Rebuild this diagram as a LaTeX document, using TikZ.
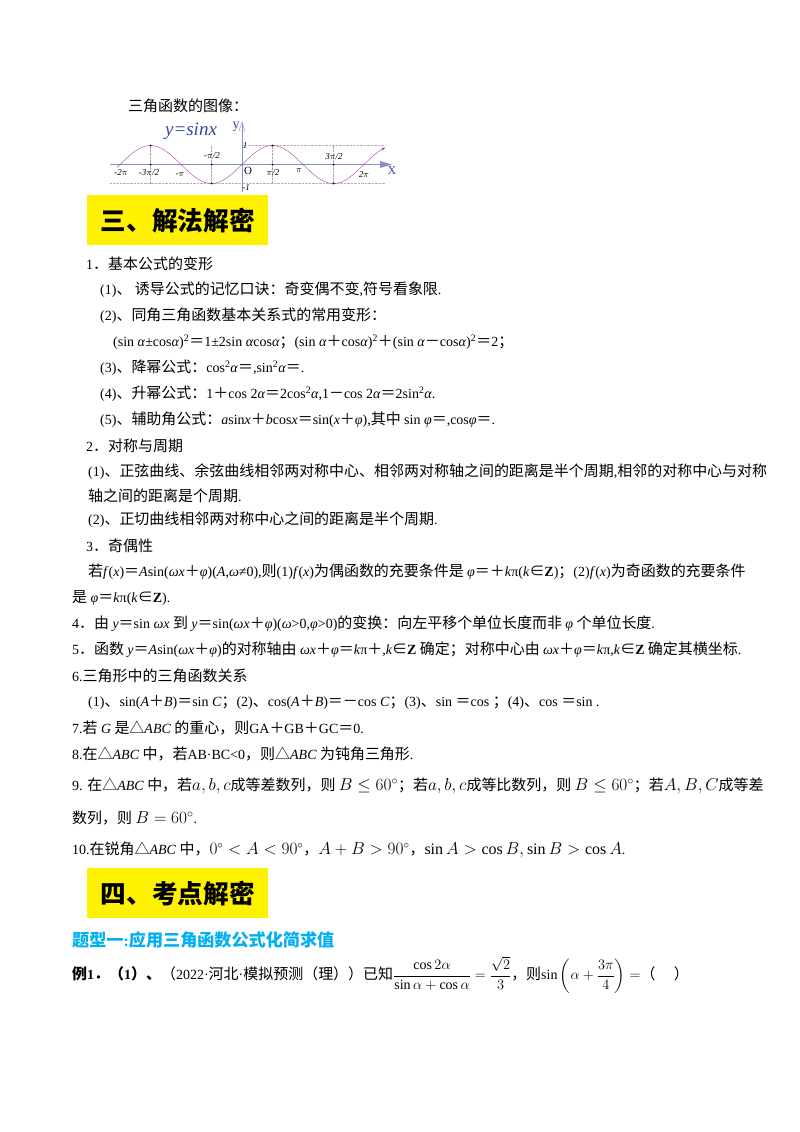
\documentclass[tikz,border=0pt]{standalone}
\usepackage{amsmath}
\usepackage{fontspec}
\setmainfont{Liberation Serif}
\newfontfamily\cjk[Scale=1.07]{Noto Sans CJK SC}
\newfontfamily\sfl{Liberation Sans}
\usetikzlibrary{arrows.meta}
\newXeTeXintercharclass\cjkclass
\count255="4E00 \loop\XeTeXcharclass\count255=\cjkclass\advance\count255 1 \ifnum\count255<"A000 \repeat
\count255="3000 \loop\XeTeXcharclass\count255=\cjkclass\advance\count255 1 \ifnum\count255<"3040 \repeat
\count255="FF00 \loop\XeTeXcharclass\count255=\cjkclass\advance\count255 1 \ifnum\count255<"FFF0 \repeat
\XeTeXcharclass"25B3=\cjkclass
\XeTeXcharclass"2208=\cjkclass
\XeTeXinterchartoks 0 \cjkclass={\cjk}
\XeTeXinterchartoks 4095 \cjkclass={\cjk}
\XeTeXinterchartoks \cjkclass 0={\rmfamily}
\XeTeXinterchartoks 4095 0={\rmfamily}
\XeTeXinterchartokenstate=1
\definecolor{curve}{RGB}{170,60,170}
\definecolor{axblue}{RGB}{50,70,160}
\definecolor{hblue}{RGB}{0,176,240}
\begin{document}
\begin{tikzpicture}[x=1pt,y=-1pt,
  t/.style={anchor=west,inner sep=0pt,font=\fontsize{14}{16}\selectfont},
  lab/.style={inner sep=0pt,font=\fontsize{9}{10}\selectfont\itshape},
  hbox/.style={fill=yellow,minimum width=181pt,minimum height=50pt,anchor=north west,inner sep=0pt,font=\fontsize{24}{28}\selectfont\bfseries}]
\useasboundingbox (0,0) rectangle (800,1132);
\fill[white] (0,0) rectangle (800,1132);
% graph
\node[t] (gt) at (128,106) {三角函数的图像：};
\node[inner sep=0pt,text=axblue,font=\fontsize{19}{20}\selectfont\itshape] (yeq) at (191,131) {y=sinx};
\draw[gray!60,densely dotted] (242,145.5) -- (385,145.5);
\draw[gray!60,densely dotted] (110,183.5) -- (385,183.5);
\foreach \k in {-1.5,-0.5,0.5,1.5}{\draw[gray!70,densely dotted] ({242+61*\k},145.5) -- ({242+61*\k},183.5);}
\draw[axblue!60] (110,164.5) -- (388,164.5);
\fill[axblue!60] (380,161) -- (392,164.5) -- (380,168) -- cycle;
\draw[axblue!60] (242,192) -- (242,123);
\draw[axblue!60] (239,131) -- (242,122) -- (245,131) -- cycle;
\draw[curve,-{Stealth[length=4pt]}] plot[domain=-6.44:7.38,samples=120,smooth] ({242+61*\x/pi},{164.5-19*sin(\x r)});
\foreach \k in {-1.5,-0.5,0.5,1.5}{\fill ({242+61*\k},164.5) circle (1pt);\fill ({242+61*\k},{164.5-19*sin(\k*180)}) circle (1pt);}
\node[inner sep=0pt,text=axblue,font=\fontsize{14}{14}\selectfont\sfl] (ylab) at (236,127) {y};
\node[inner sep=0pt,text=axblue,font=\fontsize{12}{12}\selectfont\sfl] (xlab) at (392,171) {X};
\node[inner sep=0pt,font=\fontsize{11}{11}\selectfont\sfl] (o) at (248,171) {O};
\node[lab] (l1) at (245,146) {1};
\node[lab] (lm1) at (246,188) {-1};
\node[lab] (a1) at (121,173) {-2$\pi$};
\node[lab] (a2) at (149,173) {-3$\pi$/2};
\node[lab] (a3) at (180,175) {-$\pi$};
\node[lab] (a4) at (212,156) {-$\pi$/2};
\node[lab] (a5) at (273,173) {$\pi$/2};
\node[lab] (a6) at (299,171) {$\pi$};
\node[lab] (a7) at (334,157) {3$\pi$/2};
\node[lab] (a8) at (364,175) {2$\pi$};
% heading 3
\node[hbox] (h3) at (87,195) {三、解法解密};
\node[t] (r1) at (86,264) {1．基本公式的变形};
\node[t] (r2) at (100,290) {(1)、 诱导公式的记忆口诀：奇变偶不变,符号看象限.};
\node[t] (r3) at (100,316) {(2)、同角三角函数基本关系式的常用变形：};
\node[t] (r4) at (113,342) {(sin \textit{α}±cos\textit{α})\textsuperscript{2}＝1±2sin \textit{α}cos\textit{α}；(sin \textit{α}＋cos\textit{α})\textsuperscript{2}＋(sin \textit{α}－cos\textit{α})\textsuperscript{2}＝2；};
\node[t] (r5) at (100,368) {(3)、降幂公式：cos\textsuperscript{2}\textit{α}＝,sin\textsuperscript{2}\textit{α}＝.};
\node[t] (r6) at (100,394) {(4)、升幂公式：1＋cos 2\textit{α}＝2cos\textsuperscript{2}\textit{α},1－cos 2\textit{α}＝2sin\textsuperscript{2}\textit{α}.};
\node[t] (r7) at (100,420) {(5)、辅助角公式：\textit{a}sin\textit{x}＋\textit{b}cos\textit{x}＝sin(\textit{x}＋\textit{φ}),其中 sin \textit{φ}＝,cos\textit{φ}＝.};
\node[t] (r8) at (86,446) {2．对称与周期};
\node[t] (r9) at (88,472) {(1)、正弦曲线、余弦曲线相邻两对称中心、相邻两对称轴之间的距离是半个周期,相邻的对称中心与对称};
\node[t] (r10) at (88,496) {轴之间的距离是个周期.};
\node[t] (r11) at (88,520) {(2)、正切曲线相邻两对称中心之间的距离是半个周期.};
\node[t] (r12) at (86,546) {3．奇偶性};
\node[t] (r13) at (88,572) {若\textit{f}(\textit{x})＝\textit{A}sin(\textit{ωx}＋\textit{φ})(\textit{A},\textit{ω}≠0),则(1)\textit{f}(\textit{x})为偶函数的充要条件是 \textit{φ}＝＋\textit{k}π(\textit{k}∈\textbf{Z})；(2)\textit{f}(\textit{x})为奇函数的充要条件};
\node[t] (r14) at (72,598) {是 \textit{φ}＝\textit{k}π(\textit{k}∈\textbf{Z}).};
\node[t] (r15) at (72,624) {4．由 \textit{y}＝sin \textit{ωx} 到 \textit{y}＝sin(\textit{ωx}＋\textit{φ})(\textit{ω}>0,\textit{φ}>0)的变换：向左平移个单位长度而非 \textit{φ} 个单位长度.};
\node[t] (r16) at (72,650) {5．函数 \textit{y}＝\textit{A}sin(\textit{ωx}＋\textit{φ})的对称轴由 \textit{ωx}＋\textit{φ}＝\textit{k}π＋,\textit{k}∈\textbf{Z} 确定；对称中心由 \textit{ωx}＋\textit{φ}＝\textit{k}π,\textit{k}∈\textbf{Z} 确定其横坐标.};
\node[t] (r17) at (72,676) {6.三角形中的三角函数关系};
\node[t] (r18) at (88,702) {(1)、sin(\textit{A}＋\textit{B})＝sin \textit{C}；(2)、cos(\textit{A}＋\textit{B})＝－cos \textit{C}；(3)、sin ＝cos ；(4)、cos ＝sin .};
\node[t] (r19) at (72,728) {7.若 \textit{G} 是△\textit{ABC} 的重心，则GA＋GB＋GC＝0.};
\node[t] (r20) at (72,754) {8.在△\textit{ABC} 中，若AB·BC<0，则△\textit{ABC} 为钝角三角形.};
\node[t] (r21) at (72,786) {9. 在△\textit{ABC} 中，若{\fontsize{17}{18}\selectfont$a,b,c$}成等差数列，则 {\fontsize{17}{18}\selectfont$B\le 60^\circ$}；若{\fontsize{17}{18}\selectfont$a,b,c$}成等比数列，则 {\fontsize{17}{18}\selectfont$B\le 60^\circ$}；若{\fontsize{17}{18}\selectfont$A,B,C$}成等差};
\node[t] (r22) at (72,818) {数列，则 {\fontsize{17}{18}\selectfont$B=60^\circ$}.};
\node[t] (r23) at (72,850) {10.在锐角△\textit{ABC} 中，{\fontsize{16}{18}\selectfont$0^\circ<A<90^\circ$}，{\fontsize{16}{18}\selectfont$A+B>90^\circ$}，{\fontsize{16}{18}\selectfont$\sin A>\cos B,\sin B>\cos A$}.};
% heading 4
\node[hbox] (h4) at (87,868) {四、考点解密};
\node[t,text=hblue,font=\fontsize{16}{18}\selectfont\bfseries] (tx) at (72,940) {题型一:应用三角函数公式化简求值};
\node[t] (ex) at (72,975) {\textbf{例1．（1）、}（2022·河北·模拟预测（理））已知$\dfrac{\cos 2\alpha}{\sin\alpha+\cos\alpha}=\dfrac{\sqrt2}{3}$，则$\sin\left(\alpha+\dfrac{3\pi}{4}\right)=$（\quad\ ）};
\end{tikzpicture}
\end{document}
